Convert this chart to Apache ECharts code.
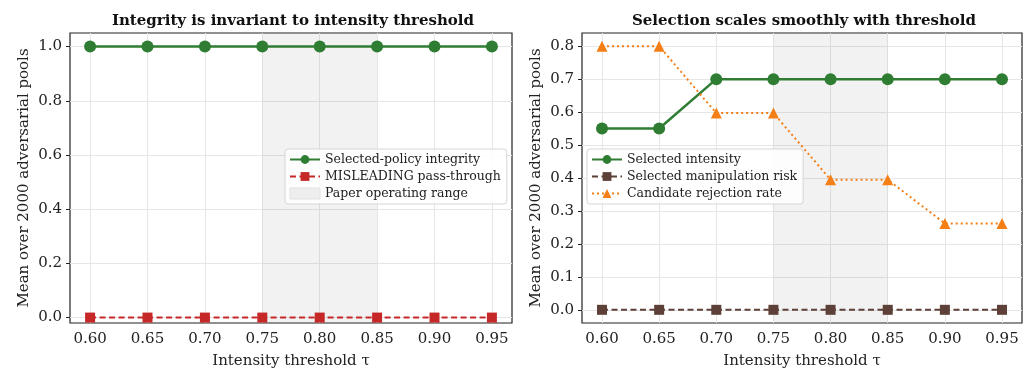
<!DOCTYPE html>
<html>
<head>
<meta charset="utf-8">
<script src="https://cdn.jsdelivr.net/npm/echarts@6/dist/echarts.min.js"></script>
<style>
  html, body { margin: 0; padding: 0; background: #fff; }
  #chart { width: 1032px; height: 369px; }
</style>
</head>
<body>
<div id="chart"></div>
<script>
// Intensity thresholds swept (x axis)
const thresholds = [0.60, 0.65, 0.70, 0.75, 0.80, 0.85, 0.90, 0.95];
const xTicks = [0.60, 0.65, 0.70, 0.75, 0.80, 0.85, 0.90, 0.95];
const leftYTicks = [0.0, 0.2, 0.4, 0.6, 0.8, 1.0];
const rightYTicks = [0.0, 0.1, 0.2, 0.3, 0.4, 0.5, 0.6, 0.7, 0.8];

// Left panel: integrity metrics
const policyIntegrity = [1.0, 1.0, 1.0, 1.0, 1.0, 1.0, 1.0, 1.0];
const misleadingPassThrough = [0.0, 0.0, 0.0, 0.0, 0.0, 0.0, 0.0, 0.0];

// Right panel: selection metrics
const selectedIntensity = [0.55, 0.55, 0.70, 0.70, 0.70, 0.70, 0.70, 0.70];
const manipulationRisk = [0.0, 0.0, 0.0, 0.0, 0.0, 0.0, 0.0, 0.0];
const rejectionRate = [0.80, 0.80, 0.597, 0.597, 0.395, 0.395, 0.262, 0.262];

// Operating range highlighted in both panels
const operatingRange = [0.75, 0.85];

const FONT = '"DejaVu Serif", serif';
const GREEN = '#2e7d32', RED = '#c62828', BROWN = '#5d4037', ORANGE = '#f57f17';

const pair = (ys) => thresholds.map((x, i) => [x, ys[i]]);

function xAxisFor(gridIndex) {
  return {
    type: 'value', gridIndex,
    min: 0.5825, max: 0.9675,
    name: 'Intensity threshold \u03c4', nameLocation: 'middle', nameGap: 31,
    nameTextStyle: { fontFamily: FONT, fontSize: 15, color: '#222' },
    axisLine: { show: false },
    axisTick: { show: true, length: 4, lineStyle: { color: '#222', width: 1 }, customValues: xTicks },
    axisLabel: { customValues: xTicks, margin: 9, fontFamily: FONT, fontSize: 15, color: '#222',
                 formatter: v => v.toFixed(2) },
    splitLine: { show: true, lineStyle: { color: '#e6e6e6', width: 1 } }
  };
}

function yAxisFor(gridIndex, min, max, ticks) {
  return {
    type: 'value', gridIndex, min, max,
    name: 'Mean over 2000 adversarial pools', nameLocation: 'middle', nameGap: 38,
    nameTextStyle: { fontFamily: FONT, fontSize: 15, color: '#222' },
    axisLine: { show: false },
    axisTick: { show: true, length: 4, lineStyle: { color: '#222', width: 1 }, customValues: ticks },
    axisLabel: { customValues: ticks, margin: 8, fontFamily: FONT, fontSize: 15, color: '#222',
                 formatter: v => v.toFixed(1) },
    splitLine: { show: true, lineStyle: { color: '#e6e6e6', width: 1 } }
  };
}

const shade = {
  silent: true,
  itemStyle: { color: 'rgba(128,128,128,0.1)' },
  data: [[{ xAxis: operatingRange[0] }, { xAxis: operatingRange[1] }]]
};

const legendCommon = {
  orient: 'vertical',
  backgroundColor: 'rgba(255,255,255,0.85)',
  borderColor: '#d6d6d6', borderWidth: 1, borderRadius: 3,
  padding: [4, 6, 4, 4],
  itemGap: 4, itemWidth: 30, itemHeight: 11,
  textStyle: { fontFamily: FONT, fontSize: 12.5, color: '#222' }
};

const gridCommon = {
  top: 33, height: 290, show: true, borderColor: '#222', borderWidth: 1.2,
  backgroundColor: 'transparent', containLabel: false, outerBoundsMode: 'none'
};

const chart = echarts.init(document.getElementById('chart'), null, { renderer: 'canvas' });
chart.setOption({
  animation: false,
  backgroundColor: '#fff',
  title: [
    { text: 'Integrity is invariant to intensity threshold', left: 288, top: 9, textAlign: 'center',
      textStyle: { fontFamily: FONT, fontSize: 15, fontWeight: 'bold', color: '#111' } },
    { text: 'Selection scales smoothly with threshold', left: 799, top: 9, textAlign: 'center',
      textStyle: { fontFamily: FONT, fontSize: 15, fontWeight: 'bold', color: '#111' } }
  ],
  grid: [
    Object.assign({ left: 70, width: 442 }, gridCommon),
    Object.assign({ left: 582, width: 440 }, gridCommon)
  ],
  xAxis: [xAxisFor(0), xAxisFor(1)],
  yAxis: [yAxisFor(0, -0.02, 1.05, leftYTicks), yAxisFor(1, -0.04, 0.84, rightYTicks)],
  legend: [
    Object.assign({}, legendCommon, {
      left: 285, top: 149,
      data: ['Selected-policy integrity', 'MISLEADING pass-through',
             { name: 'Paper operating range', icon: 'rect', itemStyle: { color: '#eeeeee', borderColor: '#e2e2e2', borderWidth: 1 } }]
    }),
    Object.assign({}, legendCommon, {
      left: 587, top: 149,
      data: ['Selected intensity', 'Selected manipulation risk', 'Candidate rejection rate']
    })
  ],
  series: [
    { name: 'Paper operating range', type: 'line', xAxisIndex: 0, yAxisIndex: 0, data: [],
      itemStyle: { color: '#eeeeee' }, lineStyle: { width: 0 }, markArea: shade },
    { name: 'Selected-policy integrity', type: 'line', xAxisIndex: 0, yAxisIndex: 0,
      data: pair(policyIntegrity), symbol: 'circle', symbolSize: 12,
      itemStyle: { color: GREEN }, lineStyle: { color: GREEN, width: 2.5 }, z: 3 },
    { name: 'MISLEADING pass-through', type: 'line', xAxisIndex: 0, yAxisIndex: 0,
      data: pair(misleadingPassThrough), symbol: 'rect', symbolSize: 10,
      itemStyle: { color: RED }, lineStyle: { color: RED, width: 2, type: [6, 3.5] }, z: 4 },
    { name: 'Selected intensity', type: 'line', xAxisIndex: 1, yAxisIndex: 1,
      data: pair(selectedIntensity), symbol: 'circle', symbolSize: 12,
      itemStyle: { color: GREEN }, lineStyle: { color: GREEN, width: 2.5 }, markArea: shade, z: 3 },
    { name: 'Selected manipulation risk', type: 'line', xAxisIndex: 1, yAxisIndex: 1,
      data: pair(manipulationRisk), symbol: 'rect', symbolSize: 10,
      itemStyle: { color: BROWN }, lineStyle: { color: BROWN, width: 2, type: [6, 3.5] }, z: 4 },
    { name: 'Candidate rejection rate', type: 'line', xAxisIndex: 1, yAxisIndex: 1,
      data: pair(rejectionRate), symbol: 'triangle', symbolSize: 11,
      itemStyle: { color: ORANGE }, lineStyle: { color: ORANGE, width: 2, type: [2, 3] }, z: 4 }
  ]
});
</script>
</body>
</html>
